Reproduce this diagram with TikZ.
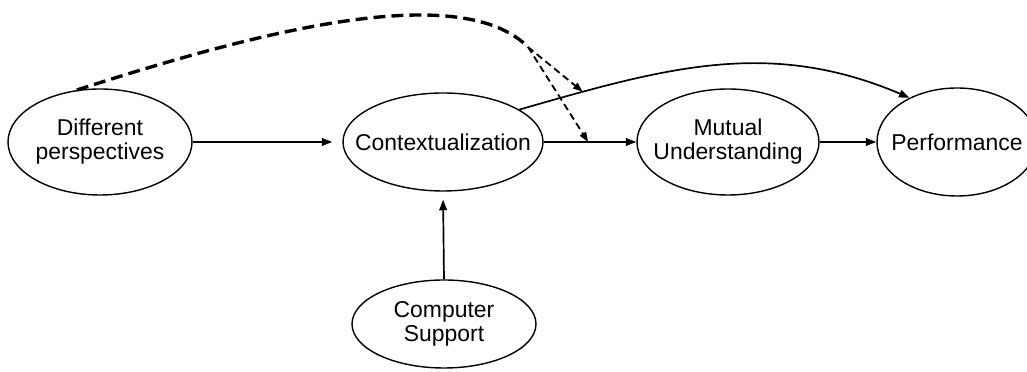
\documentclass[tikz,border=0pt]{standalone}
\usepackage{fontspec}
\setmainfont{Liberation Sans}
\usepackage{tikz}
\usetikzlibrary{arrows.meta, shapes.geometric}

\begin{document}
\begin{tikzpicture}[
  oval/.style={draw, ellipse, line width=1pt, inner xsep=-0.5cm, inner ysep=0pt, align=center, font=\fontsize{16.3}{17}\selectfont},
  arr/.style={-{Triangle[length=7.5pt, width=5.5pt]}, line width=1.2pt},
  moder/.style={dash pattern=on 8.5pt off 4.3pt, line width=2.4pt},
  modarr/.style={-{Triangle[length=7pt, width=5pt]}, dash pattern=on 5pt off 3pt, line width=1.3pt},
]
  \useasboundingbox (0, 0) rectangle (25.675, 9.3);

  % Constructs
  \node[oval, minimum width=4.6cm, minimum height=2.65cm] (dp) at (2.5, 5.75) {Different\\perspectives};
  \node[oval, minimum width=5.0cm, minimum height=2.45cm] (ctx) at (11.075, 5.75) {Contextualization};
  \node[oval, minimum width=4.55cm, minimum height=2.65cm] (mu) at (18.2, 5.75) {Mutual\\Understanding};
  \node[oval, minimum width=4.0cm, minimum height=2.7cm] (perf) at (23.925, 5.75) {Performance};
  \node[oval, minimum width=4.6cm, minimum height=2.2cm] (cs) at (11.1, 1.2) {Computer\\Support};

  % Main paths
  \draw[arr, shorten >=0.25cm] (dp.east) -- (ctx.west);
  \draw[arr] (ctx.east) -- coordinate[pos=0.48] (m2) (mu.west);
  \draw[arr] (mu.east) -- (perf.west);
  \draw[arr, shorten >=0.2cm] (cs.north) -- (ctx.south);
  \draw[arr] (ctx.23) to[out=16, in=157] coordinate[pos=0.15] (m1) (perf.137);

  % Moderating effect of perspectives
  \coordinate (fork) at (13.2, 8.125);
  \draw[moder] (dp.114) .. controls (5.975, 8.35) and (11.425, 9.9) .. (fork);
  \draw[modarr] (fork) -- (m1);
  \draw[modarr] (fork) -- (m2);
\end{tikzpicture}
\end{document}
